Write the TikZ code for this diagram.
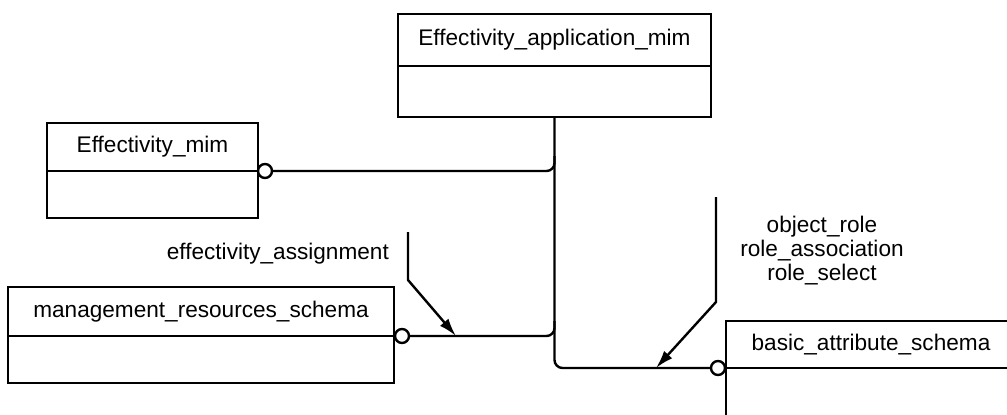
\documentclass[tikz,border=0pt]{standalone}
\usepackage{fontspec}
\setmainfont{Liberation Sans}
\usetikzlibrary{arrows.meta,calc}
\begin{document}
\begin{tikzpicture}[x=1pt,y=-1pt,
  cls/.style={draw, line width=2.4pt, inner sep=0pt, outer sep=0pt, font=\fontsize{22.6}{27}\selectfont},
  ring/.style={draw, circle, line width=2.4pt, fill=white, minimum size=14pt, inner sep=0pt, outer sep=0pt},
  conn/.style={line width=2.4pt},
  lbl/.style={inner sep=0pt, font=\fontsize{22.6}{24}\selectfont},
  tip/.style={-{Latex[length=18pt,width=11pt]}}
]
\useasboundingbox (0,0) rectangle (1007,415);
\clip (0,0) rectangle (1007,415);

% classes
\node[cls, minimum width=313pt, minimum height=52pt, anchor=north west] (eam) at (398,14) {Effectivity\_application\_mim};
\node[cls, minimum width=313pt, minimum height=51pt, anchor=north] (eamB) at (eam.south) {};

\node[cls, minimum width=211pt, minimum height=48pt, anchor=north west] (emim) at (47,123) {Effectivity\_mim};
\node[cls, minimum width=211pt, minimum height=47pt, anchor=north] (emimB) at (emim.south) {};

\node[cls, minimum width=386pt, minimum height=49pt, anchor=north west] (mgmt) at (8,287) {management\_resources\_schema};
\node[cls, minimum width=386pt, minimum height=47pt, anchor=north] (mgmtB) at (mgmt.south) {};

\node[cls, minimum width=290pt, minimum height=47pt, anchor=north west] (bas) at (726,321) {basic\_attribute\_schema};
\node[cls, minimum width=290pt, minimum height=52pt, anchor=north] (basB) at (bas.south) {};

% trunk
\draw[conn, rounded corners=8pt] (eamB.south) -- (eamB.south |- bas.south west) -- (bas.south west);

% branches
\draw[conn, rounded corners=8pt] (emim.south east) -- (emim.south east -| eamB.south) -- ($(emim.south east -| eamB.south)+(0,-15)$);
\draw[conn, rounded corners=8pt] (mgmt.south east) -- (mgmt.south east -| eamB.south) -- ($(mgmt.south east -| eamB.south)+(0,-15)$);

% rings
\node[ring] (c1) at ($(emim.south east)+(7,0)$) {};
\node[ring] (c2) at ($(mgmt.south east)+(8,0)$) {};
\node[ring] (c3) at ($(bas.south west)+(-8,0)$) {};

% reference arrows
\coordinate (a1s) at (408,232);
\coordinate (a1b) at (408,280);
\coordinate (a1t) at (456,336);
\draw[conn, tip] (a1s) -- (a1b) -- (a1t);

\coordinate (a2s) at (716,197);
\coordinate (a2b) at (716,302);
\coordinate (a2t) at (656,368);
\draw[conn, tip] (a2s) -- (a2b) -- (a2t);

% labels
\node[lbl, anchor=east] (l1) at (389,254) {effectivity\_assignment};
\node[lbl, align=center] (l2) at (822,251) {object\_role\\role\_association\\role\_select};
\end{tikzpicture}
\end{document}
